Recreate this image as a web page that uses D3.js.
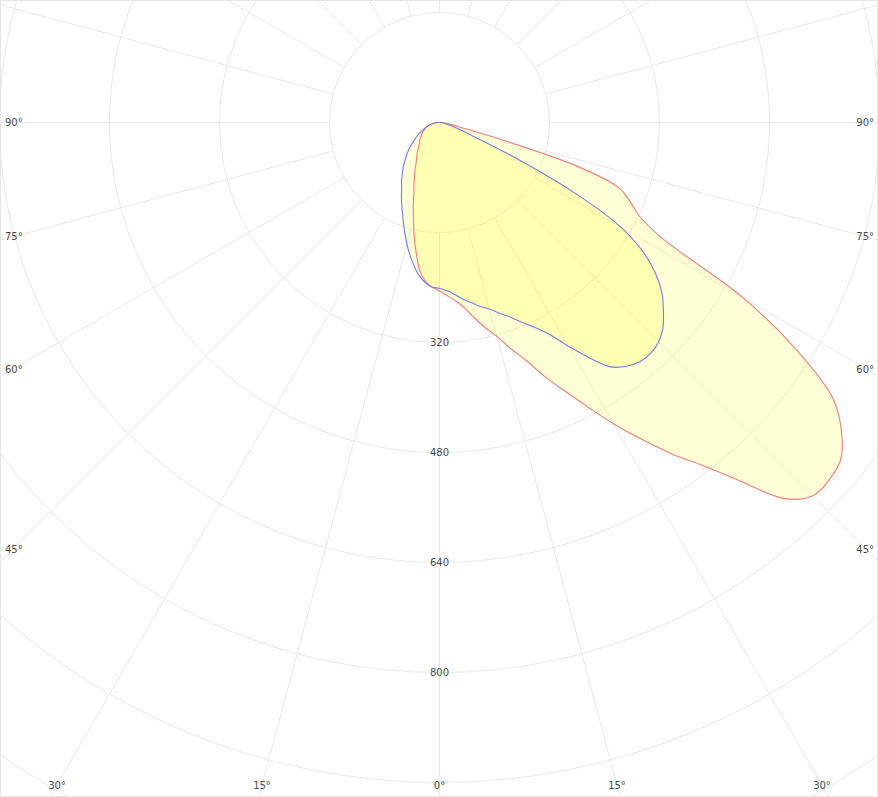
<!DOCTYPE html>
<html>
<head>
<meta charset="utf-8">
<script src="https://cdn.jsdelivr.net/npm/d3@7"></script>
<style>
  html, body { margin: 0; padding: 0; background: #fff; }
  svg { display: block; }
  text { font-family: "DejaVu Sans", Verdana, sans-serif; font-size: 10px; fill: #4a4a4a; }
</style>
</head>
<body>
<svg id="chart" width="878" height="797"></svg>
<script>
// Gamma angles (degrees from nadir; negative = left half-plane)
const angles = [-90,-87.5,-85,-82.5,-80,-77.5,-75,-72.5,-70,-67.5,-65,-62.5,-60,-57.5,-55,-52.5,-50,-47.5,-45,-42.5,-40,-37.5,-35,-32.5,-30,-27.5,-25,-22.5,-20,-17.5,-15,-12.5,-10,-7.5,-5,-2.5,
  0,2.5,5,7.5,10,12.5,15,17.5,20,22.5,25,27.5,30,32.5,35,37.5,40,42.5,45,47.5,50,52.5,55,57.5,60,62.5,65,67.5,70,72.5,75,77.5,80,82.5,85,87.5,90];

// C0-C180 plane (red)
const planeC0 = [3,5,7,9,12,14,16,18,20,22,24,26,28,30,32,34,37,39,41,44,48,52,57,62,68,77,86,97,109,127,146,170,194,218,232,240,
  245,252,260,271,288,305,322,345,368,400,431,466,506,546,588,629,681,742,768,769,762,737,698,616,510,366,320,300,278,205,75,28,18,12,8,5,3];

// C90-C270 plane (blue)
const planeC90 = [3,5,6,9,11,13,16,19,21,24,28,32,36,40,45,50,56,62,68,74,81,88,95,103,110,120,130,141,154,168,183,198,212,225,234,240,
  241,245,251,259,266,274,281,291,301,315,329,348,376,406,434,447,454,455,451,441,425,408,384,352,305,221,123,57,37,24,16,11,8,6,4,3,2];

const ringValues = [160,320,480,640,800,960,1120,1280];
const ringLabels = [320,480,640,800];
const spokeAngles = [0,15,30,45,60,75,90,105,120,135,150,165,180,195,210,225,240,255,270,285,300,315,330,345];
const sideLabels = [90,75,60,45];
const bottomLabels = [-30,-15,0,15,30];

const W = 878, H = 797;
const cx = 439.5, cy = 122.5;
const svg = d3.select("#chart");
const r = d3.scaleLinear().domain([0,160]).range([0,110]);
const toRad = g => Math.PI - g * Math.PI / 180;

const g = svg.append("g").attr("transform", `translate(${cx},${cy})`);

// radial spokes
g.selectAll("line.spoke").data(spokeAngles).join("line")
  .attr("class","spoke")
  .attr("x1", d => r(160) * Math.sin(d*Math.PI/180))
  .attr("y1", d => r(160) * Math.cos(d*Math.PI/180))
  .attr("x2", d => r(1600) * Math.sin(d*Math.PI/180))
  .attr("y2", d => r(1600) * Math.cos(d*Math.PI/180))
  .attr("stroke","#e8e8e8").attr("stroke-width",1);

// rings
g.selectAll("circle.ring").data(ringValues).join("circle")
  .attr("class","ring")
  .attr("r", d => r(d))
  .attr("fill", d => d === 160 ? "#fff" : "none")
  .attr("stroke","#e8e8e8").attr("stroke-width",1);

// data curves
const line = d3.lineRadial()
  .angle(d => toRad(d[0]))
  .radius(d => r(d[1]))
  .curve(d3.curveCatmullRomClosed.alpha(0.5));

const series = [
  {vals: planeC0, stroke: "#f27c7c"},
  {vals: planeC90, stroke: "#7a7ae4"}
];
g.selectAll("path.fill").data(series).join("path")
  .attr("class","fill")
  .attr("d", s => line(angles.map((a,i) => [a, s.vals[i]])))
  .attr("fill","#ffff00").attr("fill-opacity",0.16).attr("stroke","none");
g.selectAll("path.curve").data(series).join("path")
  .attr("class","curve")
  .attr("d", s => line(angles.map((a,i) => [a, s.vals[i]])))
  .attr("fill","none").attr("stroke", s => s.stroke).attr("stroke-width",1.1);

// ring labels
g.selectAll("text.rl").data(ringLabels).join("text")
  .attr("class","rl")
  .attr("x", 0).attr("y", d => r(d))
  .attr("text-anchor","middle").attr("dy","0.35em")
  .text(d => d);

// side angle labels
sideLabels.forEach(a => {
  const dx = 427;
  const y = dx / Math.tan(a*Math.PI/180);
  g.append("text").attr("x", 5 - cx).attr("y", y).attr("dy","0.35em")
    .attr("text-anchor","start").text(a + "°");
  g.append("text").attr("x", W - 4 - cx).attr("y", y).attr("dy","0.35em")
    .attr("text-anchor","end").text(a + "°");
});
// bottom angle labels
bottomLabels.forEach(a => {
  const dy = 785 - cy;
  const x = dy * Math.tan(a*Math.PI/180);
  g.append("text").attr("x", x).attr("y", dy).attr("dy","0.35em")
    .attr("text-anchor","middle").text(Math.abs(a) + "°");
});

// frame
svg.append("rect").attr("x",0.5).attr("y",0.5).attr("width",W-1).attr("height",H-1)
  .attr("fill","none").attr("stroke","#e6e6e6");
</script>
</body>
</html>
